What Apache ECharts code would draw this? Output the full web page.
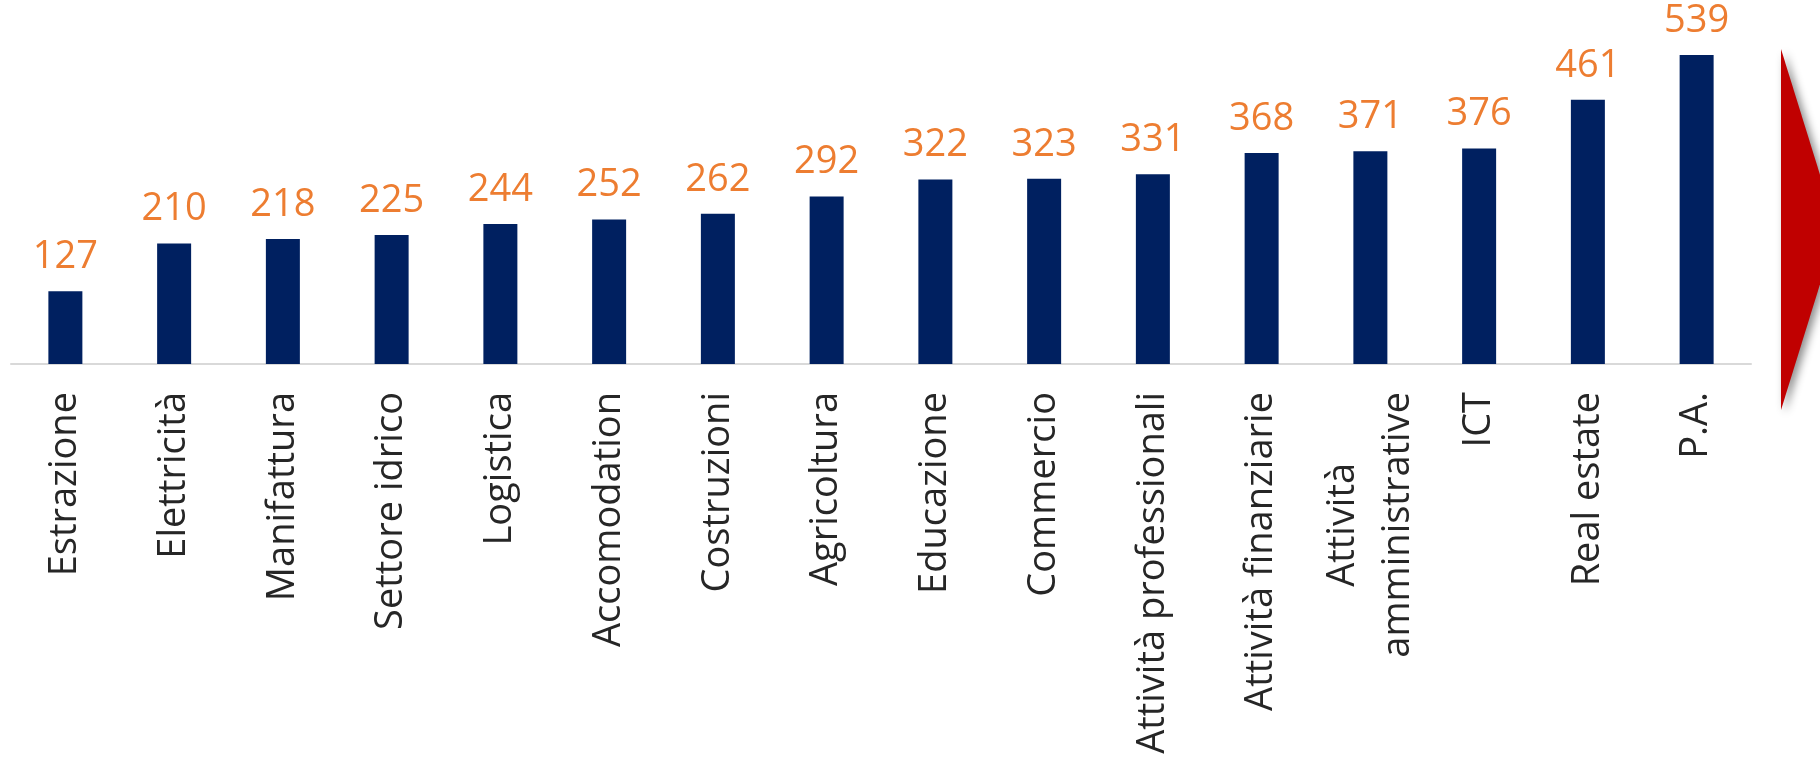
<!DOCTYPE html>
<html>
<head>
<meta charset="utf-8">
<script src="https://cdn.jsdelivr.net/npm/echarts@6/dist/echarts.min.js"></script>
<style>
  html, body { margin: 0; padding: 0; background: #fff; }
  #chart { width: 1820px; height: 761px; }
</style>
</head>
<body>
<div id="chart"></div>
<script>
// sectors, sorted by value
const categories = [
  'Estrazione', 'Elettricità', 'Manifattura', 'Settore idrico', 'Logistica',
  'Accomodation', 'Costruzioni', 'Agricoltura', 'Educazione', 'Commercio',
  'Attività professionali', 'Attività finanziarie', 'Attività\namministrative',
  'ICT', 'Real estate', 'P.A.'
]
const values = [127, 210, 218, 225, 244, 252, 262, 292, 322, 323, 331, 368, 371, 376, 461, 539]

const FONT = '"Open Sans", "Noto Sans", sans-serif'

const chart = echarts.init(document.getElementById('chart'))
chart.setOption({
  animation: false,
  grid: { left: 11, right: 69, top: 20, bottom: 397, containLabel: false },
  xAxis: {
    type: 'category',
    data: categories,
    axisLine: { lineStyle: { color: '#d9d9d9', width: 2 } },
    axisTick: { show: false },
    axisLabel: {
      interval: 0,
      rotate: 90,
      margin: 28,
      color: '#262626',
      fontFamily: FONT,
      fontSize: 38,
      formatter: (v) => v.split('\n').map(s => '{c|' + s + '}').join('\n'),
      rich: {
        c: { align: 'center', fontSize: 38, lineHeight: 55, color: '#262626', fontFamily: FONT }
      }
    }
  },
  yAxis: {
    type: 'value',
    min: 0,
    max: 600,
    show: false,
    splitLine: { show: false }
  },
  series: [{
    type: 'bar',
    data: values,
    barWidth: 34,
    itemStyle: { color: '#002060' },
    label: {
      show: true,
      position: 'top',
      distance: 15,
      color: '#ED7D31',
      fontFamily: FONT,
      fontSize: 38
    }
  }],
  graphic: [{
    type: 'polygon',
    shape: { points: [[1781, 49], [1837, 229.5], [1781, 410]] },
    style: {
      fill: '#C00000',
      shadowBlur: 8,
      shadowColor: 'rgba(0,0,0,0.45)',
      shadowOffsetX: 4,
      shadowOffsetY: 3
    }
  }]
})
</script>
</body>
</html>
